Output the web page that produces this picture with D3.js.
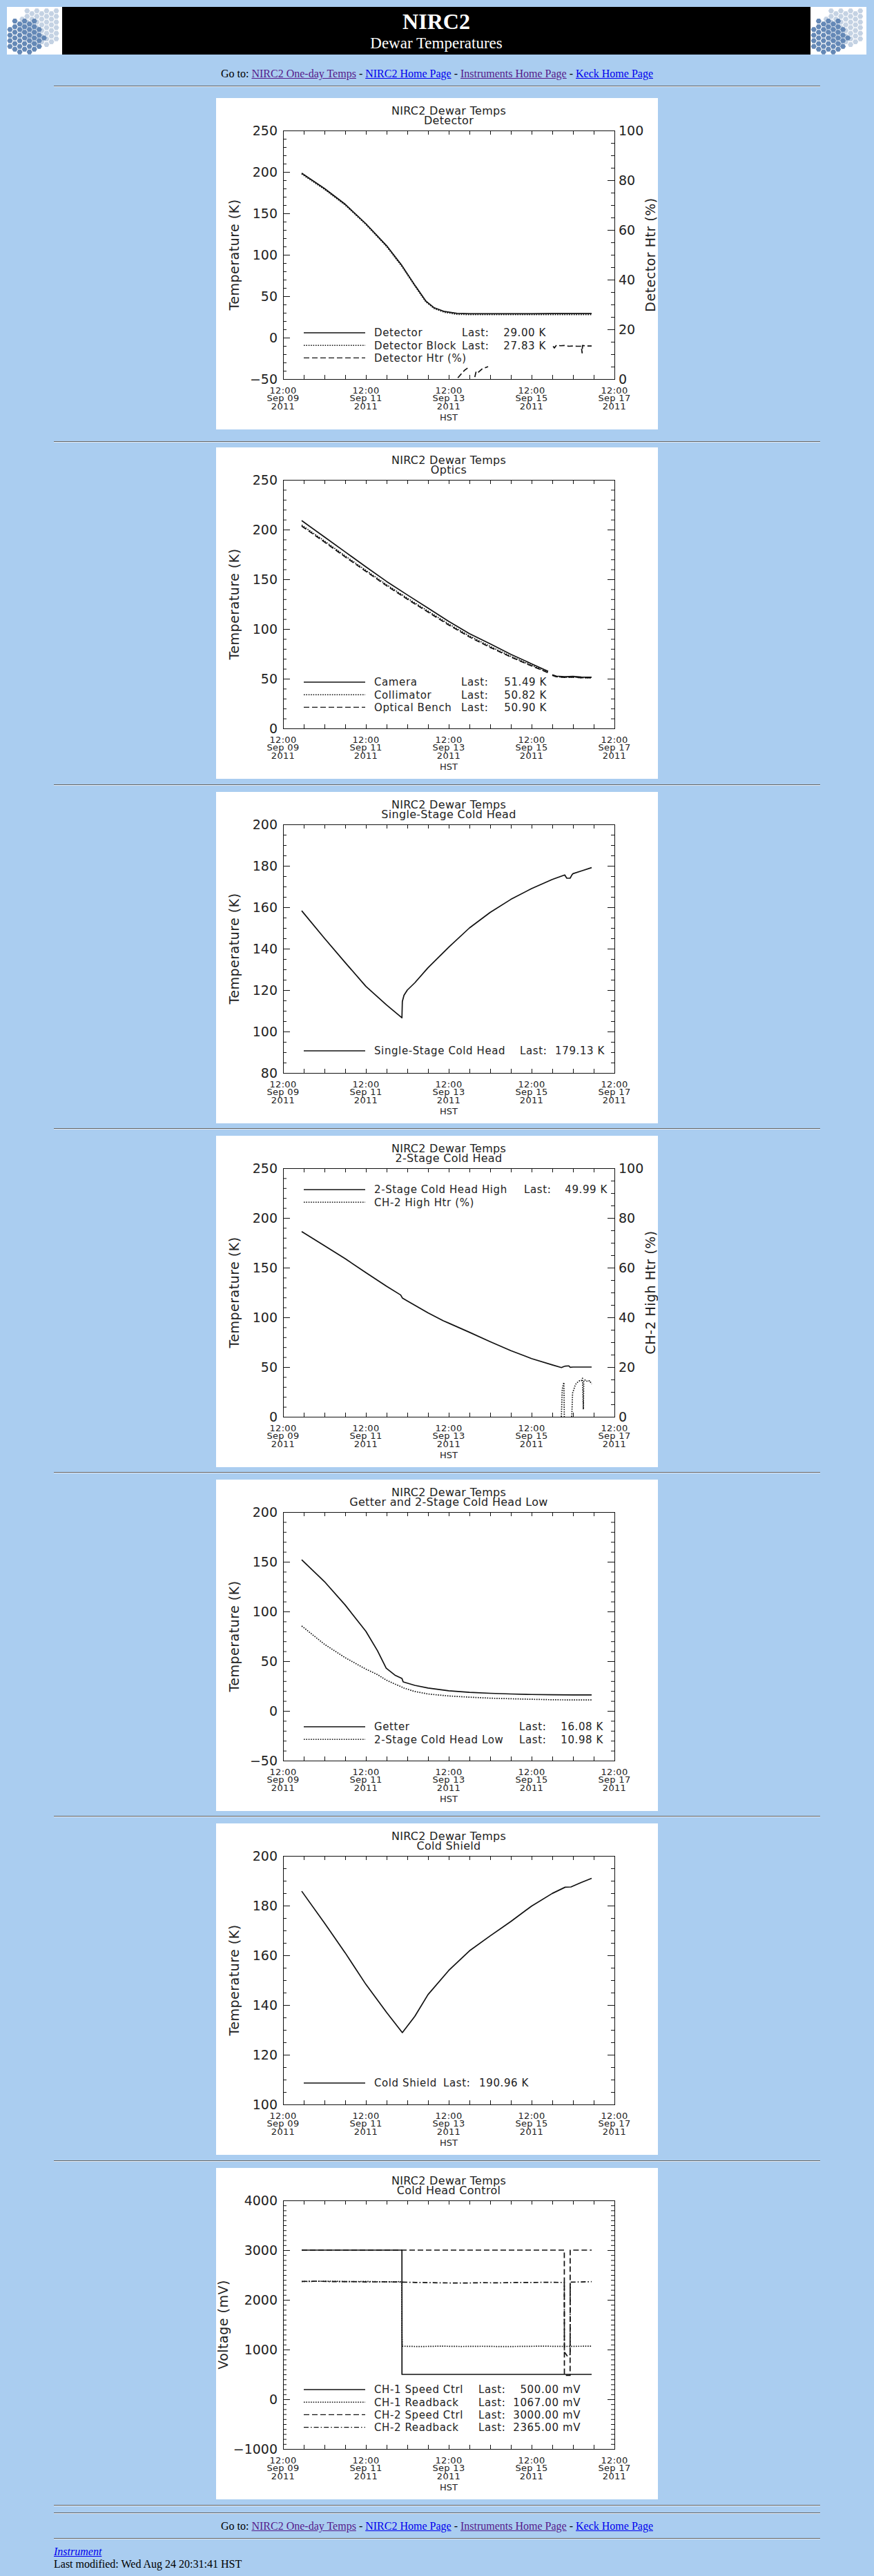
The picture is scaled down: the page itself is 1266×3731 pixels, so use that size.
<!DOCTYPE html>
<html><head><meta charset="utf-8"><title>NIRC2 Dewar Temperatures</title>
<script src="https://cdn.jsdelivr.net/npm/d3@7/dist/d3.min.js"></script>
<style>
html,body{margin:0;padding:0}
body{background:#aacdf0;width:1266px;height:3731px;position:relative;overflow:hidden;font-family:"Liberation Serif","Times New Roman",serif;color:#000}
.hr{position:absolute;left:78px;width:1110px;height:0;border-top:1px solid #646464;border-bottom:1px solid #e4ecf6}
.nav{position:absolute;left:0;width:1266px;text-align:center;font-size:16px;line-height:18px;white-space:nowrap}
a{color:#0000ee;text-decoration:underline} a.v{color:#551a8b}
.foot{position:absolute;left:78px;font-size:16px;line-height:18px;white-space:nowrap}
svg.panel{position:absolute;left:313px}
svg.panel text{font-family:"DejaVu Sans",sans-serif;fill:#222}
.hdr{position:absolute;top:10px;height:69px}
</style></head><body>
<div class="hdr" id="logoL" style="left:10px;width:80px"></div>
<div class="hdr" id="banner" style="left:90px;width:1084px;background:#000"></div>
<div class="hdr" id="logoR" style="left:1174px;width:81px"></div>
<div class="nav" style="top:98px">Go to: <a class="v" href="#">NIRC2 One-day Temps</a> - <a href="#">NIRC2 Home Page</a> - <a class="v" href="#">Instruments Home Page</a> - <a href="#">Keck Home Page</a></div>
<div class="nav" style="top:3650px">Go to: <a class="v" href="#">NIRC2 One-day Temps</a> - <a href="#">NIRC2 Home Page</a> - <a class="v" href="#">Instruments Home Page</a> - <a href="#">Keck Home Page</a></div>
<div class="foot" style="top:3687px"><a href="#"><i>Instrument</i></a></div>
<div class="foot" style="top:3705px">Last modified: Wed Aug 24 20:31:41 HST</div>
<script>
// ================= DATA (time = day of September 2011, HST, fractional) =================
const xDomain = [9.5, 17.5];              // 12:00 Sep 09 .. 12:00 Sep 17
const mainTitle = 'NIRC2 Dewar Temps';
const subTitles = ['Detector','Optics','Single-Stage Cold Head','2-Stage Cold Head','Getter and 2-Stage Cold Head Low','Cold Shield','Cold Head Control'];
const xAxisTitle = 'HST';

// Panel 1 - Detector
const detT     = [9.95,10.5,11.0,11.5,12.0,12.37,12.7,12.95,13.15,13.4,13.7,14.0,14.5,15.0,15.5,16.0,16.5,16.95];
const detector = [198.5,180,161,137.5,111,87,62,44,36,31.5,29.2,28.8,28.8,28.9,28.9,29.0,29.0,29.0];
const detBlock = [197.5,179,160,136.5,110,85.8,61,43,35,30.5,28.1,27.8,27.8,27.8,27.8,27.85,27.8,27.83];
const detHtrT  = [13.72,13.80,13.88,13.96,14.05,14.13,14.16,14.20,14.30,14.45,15.2,16.02,16.05,16.10,16.20,16.30,16.40,16.50,16.60,16.70,16.72,16.73,16.80,16.95];
const detHtr   = [0.5,2,3.5,4.5,null,0.8,3,2.5,4,5,null,13.2,12.5,13.6,13.4,13.5,13.2,13.3,13.2,13.2,10.5,13.5,13.3,13.3];

// Panel 2 - Optics
const optT       = [9.95,10.5,11.0,11.5,12.0,12.5,13.0,13.5,14.0,14.5,15.0,15.5,15.9,15.95,16.0,16.1,16.3,16.5,16.7,16.95];
const camera     = [209,192.5,177.5,162.5,147.8,134.3,121,107.7,95.3,85,74.5,65,57.5,null,54,52.6,52,52.3,51.6,51.49];
const collimator = [204.5,188.5,173.5,159,144.5,131,118,105,93,82.5,72.5,63.5,56.5,null,53.5,52,51.4,51.6,51,50.82];
const bench      = [203.5,187.5,172.5,158,143.5,130,117,104,92,81.5,71.8,62.8,56,null,53.3,51.9,51.3,51.5,51,50.90];

// Panel 3 - Single-stage cold head
const sscT = [9.95,10.5,11.0,11.5,12.0,12.37,12.38,12.42,12.5,12.68,13.0,13.5,14.0,14.5,15.0,15.5,16.0,16.3,16.35,16.43,16.48,16.5,16.7,16.95];
const ssc  = [158.3,145,133.3,121.8,112.8,106.6,114.5,117.5,120,123.5,130.8,140.7,150,157.5,163.8,169,173.4,175.6,174,174,175.8,176.2,177.5,179.13];

// Panel 4 - 2-stage cold head
const tshT    = [9.95,10.5,11.0,11.5,12.0,12.34,12.38,12.5,13.0,13.37,13.5,14.0,14.5,15.0,15.5,16.0,16.22,16.28,16.32,16.4,16.43,16.5,16.95];
const tsHigh  = [186.3,172,159,145,131.3,122.5,119.5,116.5,104.5,96.5,94.2,85,75.5,66.5,58.5,52.2,49.5,50.5,51,51.2,49.8,50,49.99];
const ch2HtrT = [16.22,16.24,16.26,16.28,16.29,16.40,16.47,16.49,16.52,16.55,16.58,16.62,16.66,16.70,16.73,16.75,16.76,16.80,16.85,16.90,16.95];
const ch2Htr  = [0,11,12.5,13.8,0,null,0,9.5,11,12.5,13.5,14,14.5,14.5,15.5,3,14.5,14.8,14.2,14.5,13.2];

// Panel 5 - Getter and 2-stage cold head low
const getT   = [9.95,10.5,11.0,11.5,11.78,11.99,12.2,12.37,12.4,12.68,13.0,13.5,14.0,14.5,15.0,15.5,16.0,16.5,16.95];
const getter = [152,130,106.5,80,60.5,43,36,32.6,29.2,25.7,23,20.2,18.7,17.7,17,16.5,16.3,16.1,16.08];
const tsLow  = [85.4,67,53.5,42,36.5,31,27,24,23.2,19.5,17,15,13.8,12.8,12.2,11.7,11.2,11,10.98];

// Panel 6 - Cold shield
const csT        = [9.95,10.5,11.0,11.5,12.0,12.38,12.68,13.0,13.5,14.0,14.5,15.0,15.5,16.0,16.31,16.45,16.7,16.95];
const coldShield = [185.8,173,161,148.3,137,128.9,135.4,144.2,153.9,161.8,167.8,173.6,179.8,184.9,187.4,187.5,189.3,190.96];

// Panel 7 - Cold head control (mV)
const ch1SpdT = [9.95,12.37,12.371,16.95];
const ch1Spd  = [3000,3000,500,500];
const ch1RbT  = [9.95,10.3,10.7,11.1,11.5,11.9,12.3,12.369,12.372,12.38,12.8,13.3,13.8,14.3,14.8,15.3,15.8,16.3,16.6,16.95];
const ch1Rb   = [2368,2372,2375,2365,2370,2362,2365,2360,1300,1067,1060,1068,1062,1066,1060,1064,1068,1062,1066,1067];
const ch2SpdT = [9.95,16.29,16.292,16.43,16.432,16.95];
const ch2Spd  = [3000,3000,480,480,3000,3000];
const ch2RbT  = [9.95,10.3,10.7,11.1,11.5,11.9,12.3,12.7,13.1,13.5,13.9,14.3,14.7,15.1,15.5,15.9,16.29,16.292,16.36,16.43,16.432,16.7,16.95];
const ch2Rb   = [2370,2375,2365,2368,2360,2362,2358,2350,2345,2340,2338,2345,2342,2348,2350,2352,2350,950,870,900,2355,2360,2365];

// Y tick labels
const yTicks1 = [-50,0,50,100,150,200,250];
const yTicks2 = [0,50,100,150,200,250];
const yTicks3 = [80,100,120,140,160,180,200];
const yTicks5 = [-50,0,50,100,150,200];
const yTicks6 = [100,120,140,160,180,200];
const yTicks7 = [-1000,0,1000,2000,3000,4000];
const pctTicks = [0,20,40,60,80,100];

// Legend texts
const legNames = [
  ['Detector','Detector Block','Detector Htr (%)'],
  ['Camera','Collimator','Optical Bench'],
  ['Single-Stage Cold Head'],
  ['2-Stage Cold Head High','CH-2 High Htr (%)'],
  ['Getter','2-Stage Cold Head Low'],
  ['Cold Shield'],
  ['CH-1 Speed Ctrl','CH-1 Readback','CH-2 Speed Ctrl','CH-2 Readback']
];
const legLast = [
  ['29.00 K','27.83 K',null],
  ['51.49 K','50.82 K','50.90 K'],
  ['179.13 K'],
  ['49.99 K',null],
  ['16.08 K','10.98 K'],
  ['190.96 K'],
  ['500.00 mV','1067.00 mV','3000.00 mV','2365.00 mV']
];

// ================= CHART DEFINITIONS =================
const panels = [
  {yDomain:[-50,250], yTicks:yTicks1, yMinor:10, yTitle:'Temperature (K)',
   right:{domain:[0,100], ticks:pctTicks, minor:5, title:'Detector Htr (%)'},
   series:[{t:detT,v:detector,s:'solid'},{t:detT,v:detBlock,s:'dotted'},{t:detHtrT,v:detHtr,s:'dashed',r:true}]},
  {yDomain:[0,250], yTicks:yTicks2, yMinor:10, yTitle:'Temperature (K)',
   series:[{t:optT,v:camera,s:'solid'},{t:optT,v:collimator,s:'dotted'},{t:optT,v:bench,s:'dashed'}]},
  {yDomain:[80,200], yTicks:yTicks3, yMinor:5, yTitle:'Temperature (K)',
   series:[{t:sscT,v:ssc,s:'solid'}]},
  {yDomain:[0,250], yTicks:yTicks2, yMinor:10, yTitle:'Temperature (K)',
   right:{domain:[0,100], ticks:pctTicks, minor:5, title:'CH-2 High Htr (%)'},
   series:[{t:tshT,v:tsHigh,s:'solid'},{t:ch2HtrT,v:ch2Htr,s:'dotted',r:true}]},
  {yDomain:[-50,200], yTicks:yTicks5, yMinor:10, yTitle:'Temperature (K)',
   series:[{t:getT,v:getter,s:'solid'},{t:getT,v:tsLow,s:'dotted'}]},
  {yDomain:[100,200], yTicks:yTicks6, yMinor:5, yTitle:'Temperature (K)',
   series:[{t:csT,v:coldShield,s:'solid'}]},
  {yDomain:[-1000,4000], yTicks:yTicks7, yMinor:100, yTitle:'Voltage (mV)',
   series:[{t:ch1SpdT,v:ch1Spd,s:'solid'},{t:ch1RbT,v:ch1Rb,s:'dotted'},{t:ch2SpdT,v:ch2Spd,s:'dashed'},{t:ch2RbT,v:ch2Rb,s:'dashdot'}]}
];

// ================= LAYOUT =================
const W=640, H=480, L=97, R=577, TOP=47, BOT=407;
const layout = [
  {top:142,  legY:340, lastX:356, valEnd:478, yTitleX:33},
  {top:648,  legY:340, lastX:355, valEnd:479, yTitleX:33},
  {top:1147, legY:375, lastX:440, valEnd:563, yTitleX:33},
  {top:1645, legY:78,  lastX:446, valEnd:567, yTitleX:33},
  {top:2143, legY:358, lastX:439, valEnd:561, yTitleX:33},
  {top:2641, legY:376, lastX:329, valEnd:453, yTitleX:33},
  {top:3140, legY:321, lastX:380, valEnd:528, yTitleX:17}
];
const rightTitleX = 636;
const hrTops = [124,639,1136,1634,2132,2630,3129,3628,3639,3676];
const dashes = {solid:null, dotted:'1.6,1.8', dashed:'8,4', dashdot:'7,3,1.6,3'};
const INK = '#111';

hrTops.forEach(t => d3.select('body').append('div').attr('class','hr').style('top', t+'px'));

// ---- header ----
const ban = d3.select('#banner').append('svg').attr('width',1084).attr('height',69);
ban.append('text').attr('x',542).attr('y',32).attr('text-anchor','middle')
  .style('font-family','"Liberation Serif",serif').style('font-weight','bold').style('font-size','32px')
  .attr('fill','#fff').text('NIRC2');
ban.append('text').attr('x',542).attr('y',60).attr('text-anchor','middle')
  .style('font-family','"Liberation Serif",serif').style('font-size','23px')
  .attr('fill','#fff').text('Dewar Temperatures');

function logo(sel, w){
  const h=69, s=sel.append('svg').attr('width',w).attr('height',h);
  s.append('rect').attr('width',w).attr('height',h).attr('fill','#fff');
  const r=4.7, dx=r*1.5, dy=r*Math.sqrt(3);
  const clusters=[{cx:w*0.63,cy:26,R:31,c:'#c4d2e3'},{cx:w*0.32,cy:45,R:29,c:'#6488b6'}];
  const hex=(x,y,rr)=>d3.range(6).map(k=>[x+rr*Math.cos(k*Math.PI/3), y+rr*Math.sin(k*Math.PI/3)]);
  clusters.forEach(cl=>{
    for(let i=-9;i<=9;i++) for(let j=-9;j<=9;j++){
      const x=cl.cx+i*dx, y=cl.cy+j*dy+((i%2+2)%2 ? dy/2 : 0);
      if(Math.hypot(x-cl.cx,y-cl.cy)<=cl.R && x>2 && x<w-2 && y>2 && y<h-2)
        s.append('path').attr('d','M'+hex(x,y,r*0.86).join('L')+'Z').attr('fill',cl.c);
    }
  });
}
logo(d3.select('#logoL'),80);
logo(d3.select('#logoR'),81);

// ---- charts ----
const sd = d => new Date(Date.UTC(2011,8,1) + (d-1)*864e5);
const fmtLines = [d3.utcFormat('%H:%M'), d3.utcFormat('%b %d'), d3.utcFormat('%Y')];
const rangeStep = (lo,hi,st) => d3.range(Math.round(lo/st), Math.round(hi/st)+1).map(k=>k*st);

function styleAxis(g, fs){
  g.select('.domain').remove();
  g.selectAll('line').attr('stroke',INK).attr('stroke-width',1);
  g.selectAll('text').style('font-size',fs).style('font-family','"DejaVu Sans",sans-serif').attr('fill','#222');
}

panels.forEach((p,i)=>{
  const lay = layout[i];
  const svg = d3.select('body').append('svg').attr('class','panel')
    .attr('width',W).attr('height',H).style('top',lay.top+'px');
  svg.append('rect').attr('width',W).attr('height',H).attr('fill','#fff');

  const x = d3.scaleUtc().domain([sd(xDomain[0]), sd(xDomain[1])]).range([L,R]);
  const y = d3.scaleLinear().domain(p.yDomain).range([BOT,TOP]);
  const yR = p.right ? d3.scaleLinear().domain(p.right.domain).range([BOT,TOP]) : null;

  // titles
  svg.append('text').attr('x',(L+R)/2).attr('y',24).attr('text-anchor','middle')
    .style('font-size','16px').style('letter-spacing','0.3px').text(mainTitle);
  svg.append('text').attr('x',(L+R)/2).attr('y',38).attr('text-anchor','middle')
    .style('font-size','16px').style('letter-spacing','0.3px').text(subTitles[i]);

  // x axes (ticks every 12 h, inward)
  const xt = d3.utcHour.every(12).range(sd(xDomain[0]), new Date(+sd(xDomain[1])+1));
  styleAxis(svg.append('g').attr('transform',`translate(0,${BOT})`)
    .call(d3.axisBottom(x).tickValues(xt).tickSizeInner(-6).tickSizeOuter(0).tickFormat('')), '12px');
  styleAxis(svg.append('g').attr('transform',`translate(0,${TOP})`)
    .call(d3.axisTop(x).tickValues(xt).tickSizeInner(-6).tickSizeOuter(0).tickFormat('')), '12px');

  // x labels every 48 h
  const xl = xt.filter((d,k)=>k%4===0);
  xl.forEach(d=>{
    const t = svg.append('text').attr('text-anchor','middle').style('font-size','13px').style('letter-spacing','0.3px');
    fmtLines.forEach((f,k)=> t.append('tspan').attr('x',x(d)).attr('y',427.5+k*11.5).text(f(d)));
  });
  svg.append('text').attr('x',(L+R)/2).attr('y',466.5).attr('text-anchor','middle')
    .style('font-size','13px').text(xAxisTitle);

  // left y axis
  styleAxis(svg.append('g').attr('transform',`translate(${L},0)`)
    .call(d3.axisLeft(y).tickValues(rangeStep(p.yDomain[0],p.yDomain[1],p.yMinor)).tickSizeInner(-5).tickSizeOuter(0).tickFormat('')), '19px');
  styleAxis(svg.append('g').attr('transform',`translate(${L},0)`)
    .call(d3.axisLeft(y).tickValues(p.yTicks).tickSizeInner(-10).tickSizeOuter(0).tickPadding(8).tickFormat(d3.format('d'))), '19px');

  // right y axis
  if(p.right){
    styleAxis(svg.append('g').attr('transform',`translate(${R},0)`)
      .call(d3.axisRight(yR).tickValues(rangeStep(p.right.domain[0],p.right.domain[1],p.right.minor)).tickSizeInner(-5).tickSizeOuter(0).tickFormat('')), '19px');
    styleAxis(svg.append('g').attr('transform',`translate(${R},0)`)
      .call(d3.axisRight(yR).tickValues(p.right.ticks).tickSizeInner(-10).tickSizeOuter(0).tickPadding(6).tickFormat(d3.format('d'))), '19px');
    svg.append('text').attr('transform',`translate(${rightTitleX},${(TOP+BOT)/2}) rotate(-90)`).attr('text-anchor','middle')
      .style('font-size','19px').style('letter-spacing','0.5px').text(p.right.title);
  } else {
    styleAxis(svg.append('g').attr('transform',`translate(${R},0)`)
      .call(d3.axisRight(y).tickValues(rangeStep(p.yDomain[0],p.yDomain[1],p.yMinor)).tickSizeInner(-5).tickSizeOuter(0).tickFormat('')), '19px');
    styleAxis(svg.append('g').attr('transform',`translate(${R},0)`)
      .call(d3.axisRight(y).tickValues(p.yTicks).tickSizeInner(-10).tickSizeOuter(0).tickFormat('')), '19px');
  }

  // y title
  svg.append('text').attr('transform',`translate(${lay.yTitleX},${(TOP+BOT)/2}) rotate(-90)`).attr('text-anchor','middle')
    .style('font-size','19px').style('letter-spacing','0.5px').text(p.yTitle);

  // frame
  svg.append('rect').attr('x',L+0.5).attr('y',TOP+0.5).attr('width',R-L).attr('height',BOT-TOP)
    .attr('fill','none').attr('stroke',INK).attr('stroke-width',1);

  // series
  p.series.forEach(s=>{
    const ys = s.r ? yR : y;
    const pts = s.t.map((t,k)=>({t:sd(t), v:s.v[k]}));
    const line = d3.line().defined(d=>d.v!=null).x(d=>x(d.t)).y(d=>ys(d.v));
    svg.append('path').datum(pts).attr('d',line).attr('fill','none')
      .attr('stroke',INK).attr('stroke-width',1.7).attr('stroke-linejoin','round')
      .attr('stroke-dasharray',dashes[s.s]);
  });

  // legend
  legNames[i].forEach((nm,k)=>{
    const cy = lay.legY + k*18.2;
    svg.append('line').attr('x1',127).attr('x2',216).attr('y1',cy).attr('y2',cy)
      .attr('stroke',INK).attr('stroke-width',1.4).attr('stroke-dasharray',dashes[p.series[k].s]);
    svg.append('text').attr('x',229).attr('y',cy+5.4).style('font-size','15px').style('letter-spacing','0.6px').text(nm);
    if(legLast[i][k]){
      svg.append('text').attr('x',lay.lastX).attr('y',cy+5.4).style('font-size','15px').style('letter-spacing','0.6px').text('Last:');
      svg.append('text').attr('x',lay.valEnd).attr('y',cy+5.4).attr('text-anchor','end').style('font-size','15px').style('letter-spacing','0.6px').text(legLast[i][k]);
    }
  });
});
</script>
</body></html>
